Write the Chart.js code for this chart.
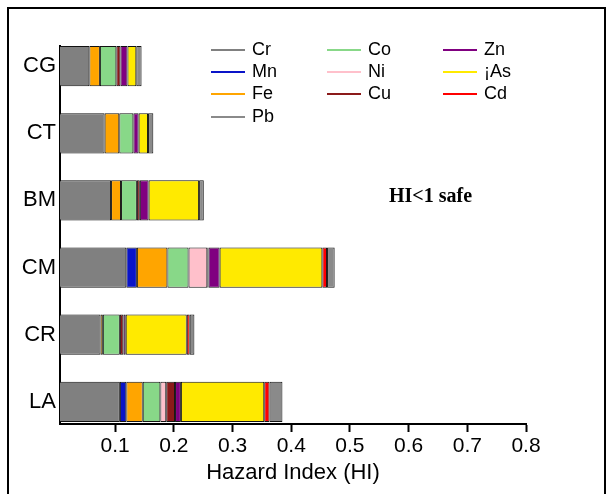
<!DOCTYPE html>
<html>
<head>
<meta charset="utf-8">
<script src="https://cdn.jsdelivr.net/npm/chart.js@4.4.1/dist/chart.umd.min.js"></script>
<style>
  html, body { margin: 0; padding: 0; background: #fff; }
  #grafico { display: block; }
</style>
</head>
<body>
<canvas id="grafico" width="607" height="494"></canvas>
<script>
// sitios y valores de HI por metal
const sitios = ["CG", "CT", "BM", "CM", "CR", "LA"];
const Cr = [0.056, 0.082, 0.093, 0.119, 0.075, 0.108];
const Mn = [0, 0, 0, 0.018, 0, 0.011];
const Fe = [0.018, 0.025, 0.017, 0.052, 0.004, 0.028];
const Co = [0.028, 0.024, 0.027, 0.036, 0.029, 0.030];
const Ni = [0, 0, 0, 0.032, 0, 0.010];
const Cu = [0.007, 0, 0.005, 0.002, 0.006, 0.015];
const Zn = [0.012, 0.009, 0.015, 0.019, 0.004, 0.010];
const As = [0.015, 0.016, 0.086, 0.175, 0.104, 0.142];
const Cd = [0, 0, 0, 0.008, 0.005, 0.009];
const Pb = [0.009, 0.009, 0.008, 0.013, 0.008, 0.022];
const ticksX = [0.1, 0.2, 0.3, 0.4, 0.5, 0.6, 0.7, 0.8];

const metales = [
    { label: "Cr", data: Cr, color: "#808080" },
    { label: "Mn", data: Mn, color: "#0a14c8" },
    { label: "Fe", data: Fe, color: "#ffa500" },
    { label: "Co", data: Co, color: "#88d888" },
    { label: "Ni", data: Ni, color: "#ffc0cb" },
    { label: "Cu", data: Cu, color: "#8b1a1a" },
    { label: "Zn", data: Zn, color: "#800080" },
    { label: "\u00a1As", data: As, color: "#ffea00" },
    { label: "Cd", data: Cd, color: "#ff0000" },
    { label: "Pb", data: Pb, color: "#8a8a8a" }
];

const datasets = metales.map(m => ({
    label: m.label,
    data: m.data.map((v, i) => ({ x: v, y: i })),
    backgroundColor: m.color,
    borderColor: "#111",
    borderWidth: 1,
    borderSkipped: false,
    barPercentage: 0.6,
    categoryPercentage: 1,
    clip: 0
}));

// marco, leyenda y texto "HI<1 safe"
const extras = {
    id: "extras",
    afterDraw(chart) {
        const ctx = chart.ctx;
        ctx.save();
        ctx.strokeStyle = "#000";
        ctx.lineWidth = 2;
        ctx.beginPath();
        ctx.moveTo(8, 500);
        ctx.lineTo(8, 8);
        ctx.lineTo(605, 8);
        ctx.lineTo(605, 500);
        ctx.stroke();

        const colsX = [211, 327, 443];
        const filasY = [50, 72, 94, 117];
        ctx.font = "18px 'Liberation Sans', Arial, sans-serif";
        ctx.textBaseline = "middle";
        ctx.textAlign = "left";
        chart.data.datasets.forEach((ds, i) => {
            let col = Math.floor(i / 3), fila = i % 3;
            if (i === 9) { col = 0; fila = 3; }
            const x = colsX[col], y = filasY[fila];
            ctx.strokeStyle = ds.backgroundColor;
            ctx.lineWidth = 2;
            ctx.beginPath();
            ctx.moveTo(x, y);
            ctx.lineTo(x + 34, y);
            ctx.stroke();
            ctx.fillStyle = "#000";
            ctx.fillText(ds.label, x + 41, y);
        });

        ctx.font = "bold 20px 'Liberation Serif', 'Times New Roman', serif";
        ctx.fillText("HI<1 safe", 389, 197);
        ctx.restore();
    }
};

const ctx = document.getElementById("grafico").getContext("2d");
window.grafico = new Chart(ctx, {
    type: "bar",
    data: { datasets: datasets },
    options: {
        indexAxis: "y",
        responsive: false,
        animation: false,
        devicePixelRatio: 1,
        layout: { padding: { top: 46, right: 81, left: 0, bottom: 0 } },
        plugins: { legend: { display: false }, tooltip: { enabled: false } },
        scales: {
            x: {
                type: "linear",
                stacked: true,
                min: 0.006,
                max: 0.8,
                afterBuildTicks: s => { s.ticks = ticksX.map(v => ({ value: v })); },
                afterFit: s => { s.height = 70; },
                grid: { drawOnChartArea: false, drawTicks: true, tickLength: 8, tickColor: "#000", tickWidth: 2 },
                border: { display: true, color: "#000", width: 2 },
                ticks: {
                    color: "#000",
                    padding: 2,
                    font: { family: "'Liberation Sans', Arial, sans-serif", size: 21 },
                    callback: v => v.toFixed(1)
                },
                title: {
                    display: true,
                    text: "Hazard Index (HI)",
                    color: "#000",
                    padding: 8,
                    font: { family: "'Liberation Sans', Arial, sans-serif", size: 22 }
                }
            },
            y: {
                type: "linear",
                stacked: true,
                reverse: true,
                offset: false,
                min: -0.3,
                max: 5.33,
                afterBuildTicks: s => { s.ticks = sitios.map((n, i) => ({ value: i })); },
                afterFit: s => { s.width = 60; },
                grid: { drawOnChartArea: false, drawTicks: false },
                border: { display: true, color: "#000", width: 2 },
                ticks: {
                    color: "#000",
                    padding: 4,
                    font: { family: "'Liberation Sans', Arial, sans-serif", size: 22 },
                    callback: v => sitios[v]
                }
            }
        }
    },
    plugins: [extras]
});
</script>
</body>
</html>
